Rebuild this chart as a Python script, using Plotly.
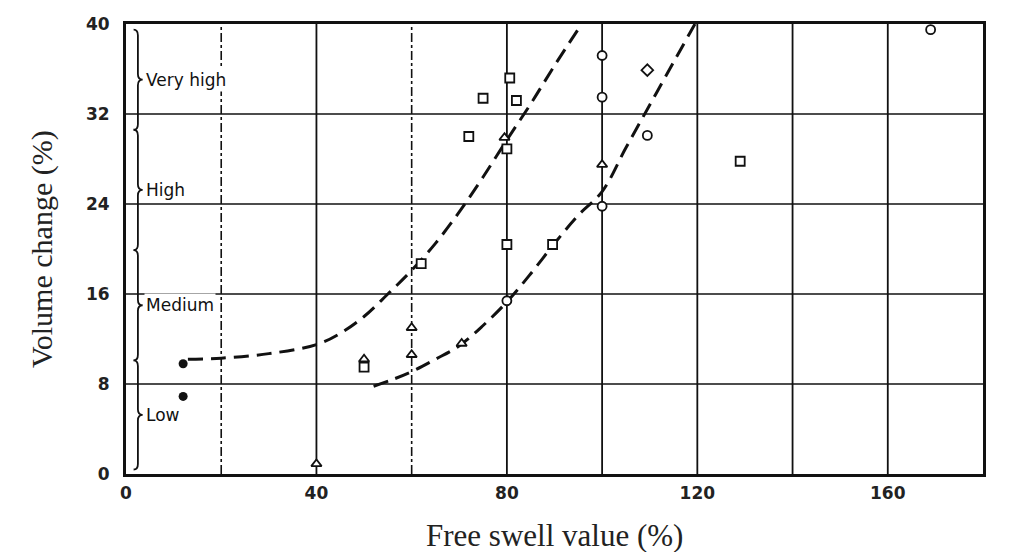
import plotly.graph_objects as go

# Measured points, grouped by marker type (free swell %, volume change %)
filled_x = [12, 12]
filled_y = [9.8, 6.9]

square_x = [50, 62, 72, 75, 80.6, 82, 80, 80, 89.6, 129]
square_y = [9.5, 18.7, 30.0, 33.4, 35.2, 33.2, 28.9, 20.4, 20.4, 27.8]

circle_x = [100, 100, 100, 109.5, 169, 80]
circle_y = [37.2, 33.5, 23.8, 30.1, 39.5, 15.4]

triangle_x = [40, 50, 60, 60, 70.5, 79.5, 100]
triangle_y = [0.9, 10.2, 13.0, 10.6, 11.6, 29.9, 27.5]

diamond_x = [109.5]
diamond_y = [35.9]

# Hand-drawn boundary curves
curve1_x = [13, 20, 30, 40, 45, 50, 55, 60, 65, 70, 75, 80, 85, 90, 95.7]
curve1_y = [10.2, 10.3, 10.7, 11.5, 12.5, 14.0, 16.0, 18.1, 20.5, 23.3, 26.4, 29.7, 32.9, 36.3, 40.0]

curve2_x = [52, 56, 60, 65, 70, 75, 80, 85, 90, 95, 100, 105, 110, 115, 119.5]
curve2_y = [7.8, 8.4, 9.1, 10.2, 11.4, 13.2, 15.3, 17.8, 20.5, 23.0, 25.1, 29.0, 32.8, 36.6, 40.0]

# Axis ticks
x_tickvals = [0, 40, 80, 120, 160]
y_tickvals = [0, 8, 16, 24, 32, 40]
x_solid_grid = [40, 80, 100, 120, 140, 160]
x_dashdot_grid = [20, 60]
y_grid = [8, 16, 24, 32]

# Swell classes shown with braces along the left edge: (label, top, bottom)
classes = [("Very high", 39.5, 30.6), ("High", 30.6, 19.9),
           ("Medium", 19.9, 10.1), ("Low", 10.1, 0.4)]

SANS = "DejaVu Sans, Verdana, sans-serif"
SERIF = "Liberation Serif, Times New Roman, serif"

fig = go.Figure()

shapes = []
for gx in x_solid_grid:
    shapes.append(dict(type="line", xref="x", yref="y", x0=gx, x1=gx, y0=0, y1=40,
                       line=dict(color="#111", width=1.8), layer="below"))
for gx in x_dashdot_grid:
    shapes.append(dict(type="line", xref="x", yref="y", x0=gx, x1=gx, y0=0, y1=40,
                       line=dict(color="#111", width=1.6, dash="dashdot"), layer="below"))
for gy in y_grid:
    shapes.append(dict(type="line", xref="x", yref="y", x0=0, x1=180, y0=gy, y1=gy,
                       line=dict(color="#111", width=1.6), layer="below"))

# Braces
xb0, xb1, xb2 = 1.6, 2.5, 3.5
for label, top, bot in classes:
    mid = (top + bot) / 2
    d = 0.5
    path = (f"M {xb0},{top} Q {xb1},{top} {xb1},{top - d} "
            f"L {xb1},{mid + d} Q {xb1},{mid} {xb2},{mid} "
            f"Q {xb1},{mid} {xb1},{mid - d} "
            f"L {xb1},{bot + d} Q {xb1},{bot} {xb0},{bot}")
    shapes.append(dict(type="path", xref="x", yref="y", path=path,
                       line=dict(color="#111", width=1.8)))

dash_style = dict(color="#111", width=3, dash="15px,8px", shape="spline")
fig.add_trace(go.Scatter(x=curve1_x, y=curve1_y, mode="lines",
                         line=dash_style, hoverinfo="skip"))
fig.add_trace(go.Scatter(x=curve2_x, y=curve2_y, mode="lines",
                         line=dash_style, hoverinfo="skip"))

mk_line = dict(color="#111", width=1.8)
fig.add_trace(go.Scatter(x=filled_x, y=filled_y, mode="markers",
                         marker=dict(symbol="circle", size=9, color="#111")))
fig.add_trace(go.Scatter(x=square_x, y=square_y, mode="markers",
                         marker=dict(symbol="square", size=9, color="white", line=mk_line)))
fig.add_trace(go.Scatter(x=circle_x, y=circle_y, mode="markers",
                         marker=dict(symbol="circle", size=9, color="white", line=mk_line)))
fig.add_trace(go.Scatter(x=triangle_x, y=triangle_y, mode="markers",
                         marker=dict(symbol="triangle-up", size=9, color="white", line=mk_line)))
fig.add_trace(go.Scatter(x=diamond_x, y=diamond_y, mode="markers",
                         marker=dict(symbol="diamond", size=9, color="white", line=mk_line)))

annotations = []
for label, top, bot in classes:
    mid = (top + bot) / 2
    annotations.append(dict(x=3.8, y=mid, xref="x", yref="y", text=label, showarrow=False,
                            xanchor="left", yanchor="middle", bgcolor="white", borderpad=1,
                            font=dict(family=SANS, size=17, color="#111")))

annotations.append(dict(x=0.5, y=-0.136, xref="paper", yref="paper",
                        text="Free swell value (%)", showarrow=False,
                        xanchor="center", yanchor="middle",
                        font=dict(family=SERIF, size=31, color="#222")))
annotations.append(dict(x=-0.098, y=0.5, xref="paper", yref="paper",
                        text="Volume change (%)", showarrow=False, textangle=-90,
                        xanchor="center", yanchor="middle",
                        font=dict(family=SERIF, size=30, color="#222")))

tick_font = dict(family=SANS, size=17, color="#222", weight="bold")
fig.update_layout(
    width=1027, height=552,
    margin=dict(l=126, r=44, t=24, b=78),
    paper_bgcolor="white", plot_bgcolor="white",
    showlegend=False,
    shapes=shapes,
    annotations=annotations,
    xaxis=dict(range=[0, 180], tickvals=x_tickvals, showgrid=False, zeroline=False,
               showline=True, mirror=True, linecolor="#111", linewidth=3,
               ticks="", ticklabelstandoff=2, tickfont=tick_font),
    yaxis=dict(range=[0, 40], tickvals=y_tickvals, showgrid=False, zeroline=False,
               showline=True, mirror=True, linecolor="#111", linewidth=3,
               ticks="", ticklabelstandoff=10, tickfont=tick_font),
)

fig.write_html("out.html")
